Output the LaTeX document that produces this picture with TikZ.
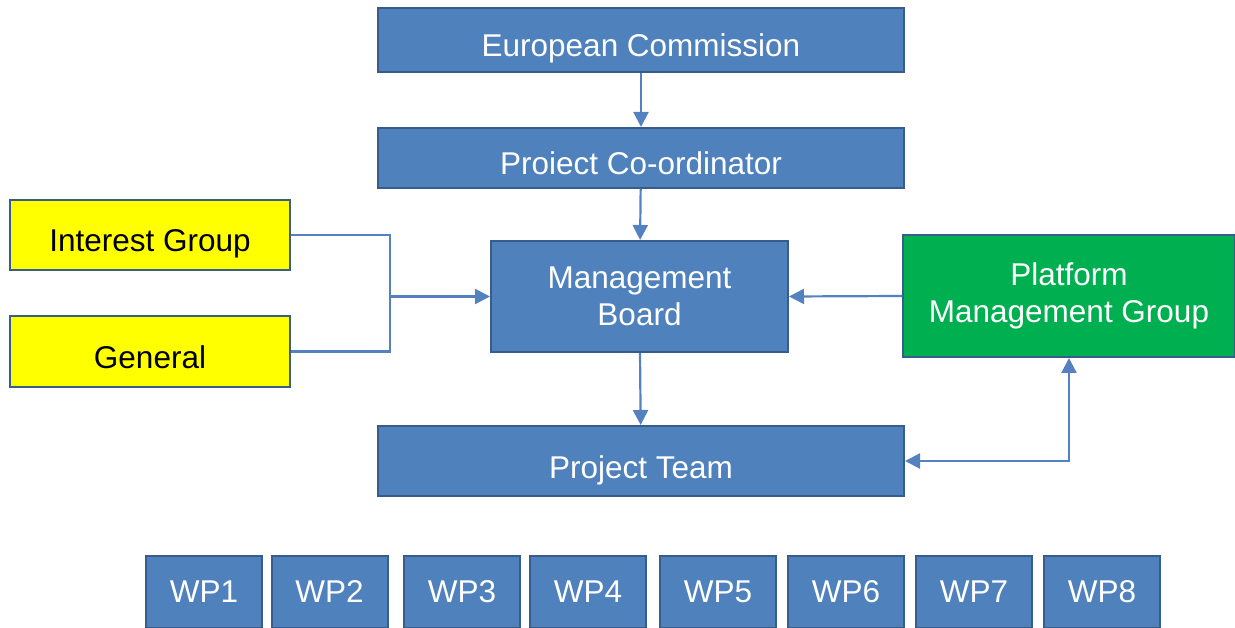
\documentclass[tikz,border=0pt]{standalone}
\usepackage{fontspec}
\setmainfont{Liberation Sans}
\usepackage{xcolor}
\definecolor{boxblue}{RGB}{79,129,189}
\definecolor{edgeblue}{RGB}{56,93,138}
\definecolor{linkblue}{RGB}{84,130,192}
\definecolor{pmggreen}{RGB}{0,176,80}
\definecolor{igyellow}{RGB}{255,255,0}
\usepackage{tikz}
\usetikzlibrary{arrows.meta}
\newcommand{\widthwide}{526pt}
\newcommand{\widthside}{280pt}
\newcommand{\widthwp}{116pt}
\tikzset{
    common/.style={draw=edgeblue, line width=2pt, rectangle, inner sep=0pt, align=center, font=\fontsize{31.5}{37}\selectfont},
    oneline/.style={text height=34pt, text depth=0pt},
    unit/.style={common, fill=boxblue, text=white},
    wide/.style={unit, oneline, minimum width=\widthwide},
    side/.style={common, oneline, fill=igyellow, text=black, minimum width=\widthside},
    wp/.style={unit, minimum width=\widthwp, minimum height=72pt},
    link/.style={linkblue, line width=2.2pt},
    tip/.style={-{Triangle[length=15pt, width=15pt]}},
    bothtips/.style={{Triangle[length=15pt, width=15pt]}-{Triangle[length=15pt, width=15pt]}}
}
\begin{document}
\begin{tikzpicture}[x=1pt, y=-1pt]
      \useasboundingbox (0,0) rectangle (1235,628);
      \path
          (641,40) node[wide, minimum height=64pt] (ec) {European Commission}
          (641,158) node[wide, minimum height=60pt] (pc) {Proiect Co-ordinator}
          (639.5,296.5) node[unit, minimum width=297pt, minimum height=111pt] (mb) {Management\\Board}
          (641,461) node[wide, minimum height=70pt] (pt) {Project Team}
          (150,235) node[side, minimum height=70pt] (ig) {Interest Group}
          (150,351.5) node[side, minimum height=71pt] (gen) {General}
          (1069,296) node[common, fill=pmggreen, text=white, minimum width=332pt, minimum height=122pt] (pmg) {Platform\\Management Group};

      \foreach \name/\x in {1/204, 2/329.5, 3/462, 4/588, 5/718, 6/846, 7/974, 8/1102}
          \node[wp] (wp-\name) at (\x,592) {WP\name};

      \coordinate (merge) at (390,296.5);

      \draw[link, tip] (ec) -- (pc);
      \draw[link, tip] (pc) -- (mb);
      \draw[link, tip] (mb) -- (pt);
      \draw[link] (ig.east) -| (merge) (gen.east) -| (merge);
      \draw[link, tip] (merge) -- (mb.west);
      \draw[link, tip] (pmg.west) -- (mb.east);
      \draw[link, bothtips] (pt.east) -| (pmg.south);
\end{tikzpicture}
\end{document}
